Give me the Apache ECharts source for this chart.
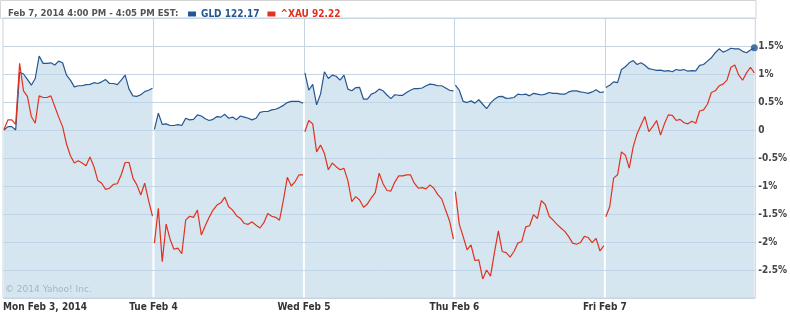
<!DOCTYPE html>
<html><head><meta charset="utf-8">
<script src="https://cdn.jsdelivr.net/npm/echarts@6/dist/echarts.min.js"></script>
<style>html,body{margin:0;padding:0;background:#fff}#c{width:790px;height:314px}</style>
</head><body><div id="c"></div>
<script>
// ---- data (percent change) ----
const dayLabels = ["Mon Feb 3, 2014", "Tue Feb 4", "Wed Feb 5", "Thu Feb 6", "Fri Feb 7"];
const headerText = "Feb 7, 2014 4:00 PM - 4:05 PM EST:";
const gldLast = "122.17";
const xauLast = "92.22";

const gldMon = [0, 0.06, 0.06, 0, 1.03, 1.0, 0.905, 0.80, 0.92, 1.32, 1.19, 1.19, 1.20, 1.16, 1.23, 1.20, 0.98, 0.89, 0.77, 0.79, 0.79, 0.81, 0.815, 0.845, 0.83, 0.86, 0.90, 0.83, 0.83, 0.81, 0.89, 0.98, 0.73, 0.61, 0.60, 0.63, 0.685, 0.71, 0.745];
const gldTue = [0.01, 0.30, 0.10, 0.11, 0.08, 0.08, 0.095, 0.08, 0.21, 0.18, 0.19, 0.27, 0.25, 0.20, 0.17, 0.19, 0.24, 0.23, 0.28, 0.21, 0.23, 0.185, 0.25, 0.23, 0.21, 0.18, 0.21, 0.315, 0.33, 0.33, 0.36, 0.37, 0.40, 0.44, 0.49, 0.51, 0.51, 0.51, 0.48];
const gldWed = [1.02, 0.71, 0.815, 0.45, 0.64, 1.04, 0.92, 0.98, 0.96, 0.89, 0.98, 0.73, 0.70, 0.755, 0.76, 0.55, 0.55, 0.64, 0.67, 0.73, 0.70, 0.625, 0.56, 0.63, 0.62, 0.62, 0.67, 0.71, 0.74, 0.74, 0.75, 0.79, 0.82, 0.81, 0.79, 0.79, 0.75, 0.71, 0.70];
const gldThu = [0.80, 0.71, 0.51, 0.49, 0.52, 0.48, 0.54, 0.46, 0.38, 0.48, 0.55, 0.595, 0.60, 0.565, 0.57, 0.58, 0.64, 0.63, 0.64, 0.61, 0.655, 0.64, 0.625, 0.64, 0.67, 0.655, 0.655, 0.64, 0.64, 0.68, 0.70, 0.70, 0.68, 0.67, 0.655, 0.68, 0.72, 0.67, 0.68];
const gldFri = [0.76, 0.80, 0.86, 0.845, 1.08, 1.13, 1.20, 1.24, 1.17, 1.20, 1.155, 1.095, 1.08, 1.065, 1.07, 1.05, 1.06, 1.04, 1.08, 1.065, 1.08, 1.05, 1.06, 1.055, 1.155, 1.17, 1.23, 1.29, 1.38, 1.45, 1.39, 1.42, 1.46, 1.45, 1.45, 1.405, 1.38, 1.43, 1.47];

const xauMon = [0.01, 0.18, 0.18, 0.10, 1.19, 0.70, 0.60, 0.24, 0.12, 0.61, 0.58, 0.58, 0.61, 0.42, 0.23, 0.06, -0.25, -0.46, -0.59, -0.55, -0.59, -0.64, -0.48, -0.65, -0.90, -0.95, -1.06, -1.04, -0.97, -0.96, -0.80, -0.58, -0.58, -0.86, -0.98, -1.16, -0.95, -1.26, -1.54];
const xauTue = [-2.02, -1.40, -2.35, -1.68, -1.95, -2.13, -2.11, -2.21, -1.61, -1.54, -1.56, -1.43, -1.875, -1.71, -1.56, -1.43, -1.34, -1.30, -1.20, -1.37, -1.43, -1.53, -1.58, -1.67, -1.685, -1.64, -1.70, -1.75, -1.655, -1.49, -1.54, -1.56, -1.61, -1.25, -0.845, -1.0, -0.92, -0.80, -0.80];
const xauWed = [-0.03, 0.17, 0.11, -0.39, -0.27, -0.42, -0.71, -0.59, -0.655, -0.71, -0.685, -0.905, -1.28, -1.19, -1.25, -1.38, -1.32, -1.21, -1.12, -0.77, -0.96, -1.08, -1.09, -0.93, -0.82, -0.82, -0.80, -0.80, -0.95, -1.04, -1.03, -1.05, -0.98, -1.04, -1.155, -1.23, -1.43, -1.62, -1.95];
const xauThu = [-1.10, -1.68, -1.905, -2.14, -2.05, -2.33, -2.32, -2.66, -2.50, -2.61, -2.19, -1.80, -2.17, -2.19, -2.27, -2.17, -2.02, -1.99, -1.73, -1.71, -1.51, -1.58, -1.26, -1.33, -1.54, -1.61, -1.685, -1.75, -1.81, -1.905, -2.02, -2.04, -2.01, -1.90, -1.92, -2.01, -1.935, -2.16, -2.065];
const xauFri = [-1.55, -1.37, -0.86, -0.80, -0.39, -0.45, -0.68, -0.30, -0.065, 0.09, 0.24, -0.03, 0.06, 0.17, -0.09, 0.11, 0.27, 0.26, 0.17, 0.19, 0.13, 0.11, 0.155, 0.12, 0.34, 0.36, 0.46, 0.67, 0.70, 0.79, 0.82, 0.89, 1.12, 1.16, 0.98, 0.89, 1.02, 1.12, 1.02];

const yMin = -3, yMax = 2, yStep = 0.5;

// ---- build ----
const MIN_PER_DAY = 390;            // 9:30 - 16:00
const STEP = 385 / 38;              // sampling step in minutes
const OFFSET = 2.5;
const gldDays = [gldMon, gldTue, gldWed, gldThu, gldFri];
const xauDays = [xauMon, xauTue, xauWed, xauThu, xauFri];
function build(days) {
  const out = [];
  days.forEach((arr, d) => {
    arr.forEach((v, i) => out.push([d * MIN_PER_DAY + OFFSET + i * STEP, v]));
    if (d < days.length - 1) out.push([(d + 1) * MIN_PER_DAY, '-']);
  });
  return out;
}
const gldData = build(gldDays);
const xauData = build(xauDays);
const gldEnd = gldData[gldData.length - 1];
// day separators: drawn only above the GLD area
const seps = [];
for (let d = 1; d < gldDays.length; d++) {
  const prev = gldDays[d - 1];
  seps.push([d * MIN_PER_DAY, Math.max(prev[prev.length - 1], gldDays[d][0])]);
}

const BLUE = '#245690', RED = '#e0321f', GRID = '#c6d5e1';
const FONT = '"DejaVu Sans Condensed", "DejaVu Sans", sans-serif';

const chart = echarts.init(document.getElementById('c'), null, {renderer: 'canvas'});
chart.setOption({
  animation: false,
  backgroundColor: '#fff',
  title: {
    text: headerText, left: 3, top: 4,
    textStyle: {fontSize: 9.5, fontWeight: 'bold', color: '#555', fontFamily: FONT}
  },
  legend: {
    left: 183, top: 4, icon: 'rect', itemWidth: 8, itemHeight: 5, itemGap: 8,
    selectedMode: false,
    data: [
      {name: 'GLD', textStyle: {color: BLUE}},
      {name: '^XAU', textStyle: {color: RED}}
    ],
    formatter: n => n + ' ' + (n === 'GLD' ? gldLast : xauLast),
    textStyle: {fontSize: 10, fontWeight: 'bold', fontFamily: FONT}
  },
  graphic: [
    {type: 'rect', shape: {x: 0.5, y: 0.5, width: 755.5, height: 18}, style: {fill: 'none', stroke: '#d4d4d4', lineWidth: 1}, silent: true},
    {type: 'text', left: 5, top: 285, z: 100, style: {text: '\u00a9 2014 Yahoo! Inc.', fill: '#a3b6c5', font: '9px "DejaVu Sans", sans-serif'}, silent: true}
  ],
  grid: {left: 1, right: 34, top: 18, bottom: 16, show: true, borderColor: GRID, borderWidth: 1, backgroundColor: 'transparent'},
  xAxis: {
    type: 'value', min: 0, max: MIN_PER_DAY * dayLabels.length, interval: MIN_PER_DAY,
    axisLine: {show: false}, axisTick: {show: false},
    splitLine: {show: false},
    axisLabel: {
      formatter: v => dayLabels[Math.round(v / MIN_PER_DAY)] || '',
      alignMinLabel: 'left', margin: 4,
      color: '#333', fontWeight: 'bold', fontSize: 10, fontFamily: FONT
    }
  },
  yAxis: {
    type: 'value', position: 'right', min: yMin, max: yMax, interval: yStep,
    axisLine: {show: false}, axisTick: {show: false},
    splitLine: {show: true, lineStyle: {color: GRID, width: 1}},
    axisLabel: {
      formatter: v => (v === yMax || v === yMin) ? '' : (v === 0 ? '0' : v + '%'),
      margin: 3, color: '#444', fontWeight: 'bold', fontSize: 10, fontFamily: FONT
    }
  },
  series: [
    {
      name: 'sep', type: 'custom', data: seps, encode: {x: 0, y: 1}, silent: true, z: 1,
      renderItem: (params, api) => {
        const x = api.value(0), y = api.value(1);
        const p1 = api.coord([x, yMax]), p2 = api.coord([x, y]);
        const px = Math.round(p1[0]) + 0.5;
        return {type: 'line', shape: {x1: px, y1: p1[1], x2: px, y2: p2[1]}, style: {stroke: GRID, lineWidth: 1}};
      }
    },
    {
      name: 'GLD', type: 'line', data: gldData, showSymbol: false, symbol: 'none',
      connectNulls: false,
      lineStyle: {color: BLUE, width: 1.2}, itemStyle: {color: BLUE},
      areaStyle: {color: 'rgba(187,213,232,0.6)', opacity: 1, origin: 'start'},
      z: 2
    },
    {
      name: '^XAU', type: 'line', data: xauData, showSymbol: false, symbol: 'none',
      connectNulls: false,
      lineStyle: {color: RED, width: 1.2}, itemStyle: {color: RED},
      z: 3
    },
    {
      name: 'GLDend', type: 'scatter', data: [gldEnd], symbolSize: 7,
      itemStyle: {color: BLUE}, z: 4
    }
  ]
});
</script>
</body></html>
